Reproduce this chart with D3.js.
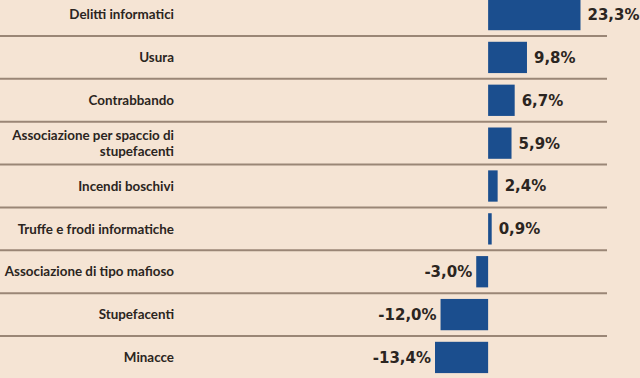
<!DOCTYPE html>
<html>
<head>
<meta charset="utf-8">
<script src="https://cdn.jsdelivr.net/npm/d3@7"></script>
<style>
  body { margin: 0; background: #f5e4d4; }
  svg { display: block; }
  .cat { font-family: Lato, sans-serif; font-weight: 700; font-size: 13.4px; fill: #2b2521; }
  .val { font-family: "DejaVu Sans", sans-serif; font-weight: 700; font-size: 15px; fill: #2b2521; }
</style>
</head>
<body>
<svg id="chart"></svg>
<script>
var categories = [
  "Delitti informatici",
  "Usura",
  "Contrabbando",
  "Associazione per spaccio di|stupefacenti",
  "Incendi boschivi",
  "Truffe e frodi informatiche",
  "Associazione di tipo mafioso",
  "Stupefacenti",
  "Minacce"
];
var values = [23.3, 9.8, 6.7, 5.9, 2.4, 0.9, -3.0, -12.0, -13.4];

var width = 640, height = 378;

var svg = d3.select("#chart")
  .attr("width", width)
  .attr("height", height);

svg.append("rect")
  .attr("width", width)
  .attr("height", height)
  .attr("fill", "#f5e4d4");

// rows are ~42.9px, first separator at y=36
var step = 42.86;
var y = d3.scaleBand()
  .domain(d3.range(categories.length))
  .range([36 - step, 36 + step * 8])
  .paddingInner(0.27)
  .paddingOuter(0.135);

var x = d3.scaleLinear()
  .domain([-13.4, 23.3])
  .range([435, 580.5]);

// separators
svg.selectAll(".sep")
  .data(d3.range(1, categories.length))
  .enter().append("line")
    .attr("class", "sep")
    .attr("x1", 0)
    .attr("x2", 607)
    .attr("y1", function(i) { return y(i) - y.step() * y.paddingInner() / 2; })
    .attr("y2", function(i) { return y(i) - y.step() * y.paddingInner() / 2; })
    .attr("stroke", "#9a8676")
    .attr("stroke-width", 2);

var row = svg.selectAll(".row")
  .data(values)
  .enter().append("g")
    .attr("class", "row");

row.append("rect")
  .attr("x", function(d) { return x(Math.min(0, d)); })
  .attr("y", function(d, i) { return y(i); })
  .attr("width", function(d) { return Math.abs(x(d) - x(0)); })
  .attr("height", y.bandwidth())
  .attr("fill", "#1b4e8e");

var fmt = function(d) { return d.toFixed(1).replace(".", ",") + "%"; };

row.append("text")
  .attr("class", "val")
  .attr("x", function(d) { return d >= 0 ? x(d) + 7 : x(d) - 4; })
  .attr("y", function(d, i) { return y(i) + y.bandwidth() / 2; })
  .attr("dy", "0.36em")
  .attr("text-anchor", function(d) { return d >= 0 ? "start" : "end"; })
  .text(fmt);

var cat = svg.selectAll(".cat")
  .data(categories)
  .enter().append("text")
    .attr("class", "cat")
    .attr("text-anchor", "end")
    .attr("y", function(d, i) { return y(i) + y.bandwidth() / 2; });

cat.each(function(d) {
  var lines = d.split("|");
  var t = d3.select(this);
  lines.forEach(function(l, k) {
    t.append("tspan")
      .attr("x", 174)
      .attr("dy", k === 0 ? (0.35 - (lines.length - 1) * 0.6) + "em" : "1.2em")
      .text(l);
  });
});
</script>
</body>
</html>
